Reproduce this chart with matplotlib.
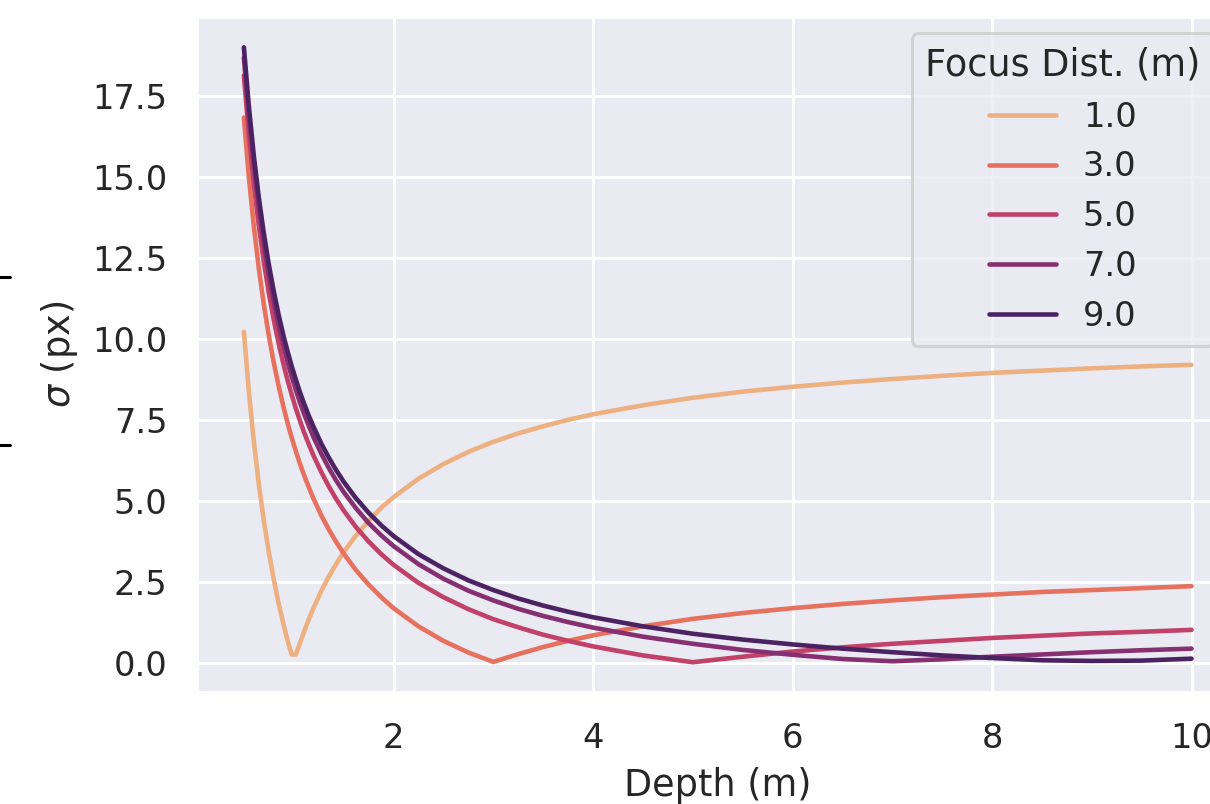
import numpy as np
import matplotlib
matplotlib.use("Agg")
import matplotlib.pyplot as plt
import seaborn as sns
from matplotlib.lines import Line2D

# depth samples (m) and blur size sigma (px), one list per focus distance
depth = [0.5, 0.55, 0.6, 0.65, 0.7, 0.75, 0.8, 0.85, 0.9, 0.94, 0.98, 1.02, 1.06, 1.1, 1.15,
         1.2, 1.28, 1.35, 1.42, 1.5, 1.62, 1.75, 1.88, 2.0, 2.25, 2.5, 2.75, 3.0, 3.25, 3.5,
         3.75, 4.0, 4.5, 5.0, 5.5, 6.0, 6.5, 7.0, 7.5, 8.0, 8.5, 9.0, 9.5, 10.0]

focus = [1.0, 3.0, 5.0, 7.0, 9.0]

sigma_f1 = [10.22, 8.37, 6.82, 5.51, 4.38, 3.41, 2.56, 1.80, 1.14, 0.65, 0.25, 0.25, 0.58, 0.93, 1.33,
            1.70, 2.24, 2.65, 3.02, 3.41, 3.91, 4.38, 4.79, 5.11, 5.68, 6.13, 6.51, 6.82, 7.08, 7.30,
            7.50, 7.67, 7.95, 8.18, 8.37, 8.52, 8.65, 8.76, 8.86, 8.95, 9.02, 9.09, 9.15, 9.20]
sigma_f3 = [16.84, 15.00, 13.47, 12.17, 11.06, 10.10, 9.26, 8.52, 7.86, 7.38, 6.94, 6.54, 6.16, 5.82, 5.42,
            5.05, 4.52, 4.12, 3.75, 3.37, 2.87, 2.41, 2.01, 1.68, 1.12, 0.67, 0.31, 0.02, 0.26, 0.48,
            0.67, 0.84, 1.12, 1.35, 1.53, 1.68, 1.81, 1.92, 2.02, 2.10, 2.18, 2.24, 2.30, 2.36]
sigma_f5 = [18.14, 16.30, 14.78, 13.49, 12.38, 11.42, 10.58, 9.84, 9.18, 8.70, 8.27, 7.86, 7.49, 7.14, 6.75,
            6.38, 5.86, 5.45, 5.08, 4.70, 4.20, 3.74, 3.34, 3.02, 2.46, 2.02, 1.65, 1.34, 1.09, 0.86,
            0.67, 0.50, 0.22, 0.01, 0.18, 0.34, 0.47, 0.58, 0.67, 0.76, 0.83, 0.90, 0.95, 1.01]
sigma_f7 = [18.69, 16.86, 15.34, 14.05, 12.94, 11.98, 11.14, 10.40, 9.75, 9.27, 8.83, 8.43, 8.06, 7.71, 7.32,
            6.95, 6.43, 6.02, 5.65, 5.27, 4.78, 4.31, 3.92, 3.60, 3.04, 2.59, 2.22, 1.92, 1.66, 1.44,
            1.25, 1.08, 0.80, 0.58, 0.39, 0.24, 0.11, 0.04, 0.10, 0.18, 0.25, 0.32, 0.38, 0.43]
sigma_f9 = [19.01, 17.18, 15.65, 14.36, 13.26, 12.30, 11.46, 10.72, 10.06, 9.59, 9.15, 8.75, 8.37, 8.03, 7.63,
            7.27, 6.74, 6.34, 5.97, 5.59, 5.09, 4.63, 4.23, 3.91, 3.35, 2.91, 2.54, 2.24, 1.98, 1.76,
            1.57, 1.40, 1.12, 0.89, 0.71, 0.56, 0.43, 0.32, 0.22, 0.14, 0.07, 0.05, 0.06, 0.12]

sigmas = [sigma_f1, sigma_f3, sigma_f5, sigma_f7, sigma_f9]

sns.set_theme(style="darkgrid", context="notebook")

DPI = 220
fig = plt.figure(figsize=(1210 / DPI, 804 / DPI), dpi=DPI)
ax = fig.add_axes([0.1624, 0.1381, 0.8615, 0.8413])

cmap = sns.color_palette("flare", as_cmap=True)
for f, s in zip(focus, sigmas):
    c = cmap((f - min(focus)) / (max(focus) - min(focus)))
    ax.plot(depth, s, color=c, linewidth=1.5, label="%.1f" % f)

ax.set_xlabel("Depth (m)")
ax.set_ylabel(r"$\sigma$ (px)")
ax.set_xticks([2, 4, 6, 8, 10])
ax.set_yticks(np.arange(0, 17.6, 2.5))
ax.legend(title="Focus Dist. (m)", loc="upper right", bbox_to_anchor=(0.992, 1.0))

# stray tick marks at the left edge of the crop
for yy in [277, 445]:
    fig.add_artist(Line2D([0, 10 / 1210], [1 - yy / 804, 1 - yy / 804],
                          color="black", linewidth=1.0, transform=fig.transFigure))

fig.savefig("out.png", dpi=DPI)
